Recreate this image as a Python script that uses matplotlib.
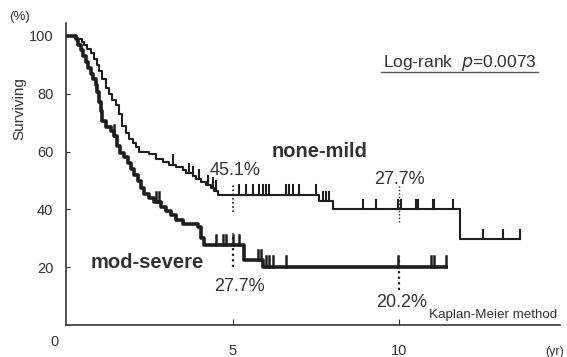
import matplotlib
matplotlib.use("Agg")
import matplotlib.pyplot as plt

plt.rcParams["font.family"] = ["Liberation Sans", "DejaVu Sans"]

# none-mild (upper, thinner curve)
nm_time = [0, 0.3, 0.48, 0.55, 0.65, 0.75, 0.85, 0.93, 1.0, 1.1, 1.2, 1.3, 1.4, 1.5, 1.6, 1.7, 1.8, 1.9, 2.0, 2.1, 2.2,
           2.5, 2.7, 2.9, 3.1, 3.3, 3.5, 3.6, 3.8, 3.9, 4.05, 4.2, 4.35, 4.45, 4.55, 7.6, 8.0, 11.8, 13.6]
nm_surv = [100, 99, 98, 97, 95.5, 94, 92, 90, 88, 85, 82, 80, 78, 76, 73, 69, 66.5, 64.5, 63, 61.5, 60,
           59, 57.5, 56.5, 55.5, 54.5, 53.5, 52.5, 51.5, 50.5, 49.5, 48.5, 47.5, 46.5, 45.1, 42.8, 40.2, 29.8, 29.8]
nm_cens = [3.2, 3.7, 3.8, 4.0, 4.25, 4.4, 4.5, 5.2, 5.4, 5.6, 5.8, 5.9, 6.0, 6.1, 6.6, 6.7, 6.8, 7.0, 7.5, 7.7, 7.8, 7.9,
           8.9, 9.3, 9.95, 10.05, 10.5, 10.55, 11.0, 11.05, 11.6, 12.5, 13.1, 13.6]

# mod-severe (lower, thicker curve)
ms_time = [0, 0.3, 0.36, 0.45, 0.52, 0.6, 0.68, 0.75, 0.82, 0.9, 0.95, 1.0, 1.05, 1.1, 1.2, 1.35, 1.45, 1.55, 1.62,
           1.75, 1.85, 1.95, 2.05, 2.15, 2.25, 2.35, 2.5, 2.65, 2.85, 3.0, 3.15, 3.3, 3.5, 3.95, 4.05, 4.15, 5.35, 5.9, 11.4]
ms_surv = [100, 99, 97, 95, 93, 91, 89, 87, 85, 83, 80.5, 77, 74, 70.5, 68.5, 67, 65.5, 62, 59.5,
           58, 56, 54, 52, 50, 47.5, 45.5, 44, 42.5, 41, 39.5, 38, 36.5, 35, 34, 30, 27.7, 22.5, 20.2, 20.2]
ms_cens = [1.45, 2.7, 2.8, 4.5, 4.7, 4.8, 5.0, 5.2, 5.75, 5.85, 6.0, 6.1, 6.2, 6.6, 9.95, 10.95, 11.05, 11.4]

y_ticks = [20, 40, 60, 80, 100]
x_ticks = [5, 10]


def surv_at(times, survs, t):
    s = survs[0]
    for ti, si in zip(times, survs):
        if ti <= t:
            s = si
    return s


ink = "#1e1e1e"
txt = "#333333"
fig = plt.figure(figsize=(5.67, 3.57), dpi=100)
ax = fig.add_axes([0.116, 0.0896, 0.871, 0.846])
ax.set_xlim(0, 14.8)
ax.set_ylim(0, 104.5)

ax.step(nm_time, nm_surv, where="post", color=ink, lw=1.5)
ax.step(ms_time, ms_surv, where="post", color=ink, lw=2.6)

for t in nm_cens:
    s = surv_at(nm_time, nm_surv, t)
    ax.plot([t, t], [s, s + 3.2], color=ink, lw=1.5)
for t in ms_cens:
    s = surv_at(ms_time, ms_surv, t)
    ax.plot([t, t], [s, s + 3.6], color=ink, lw=1.8)

# dotted reference lines
ax.plot([5, 5], [39, 49], color=ink, lw=1.2, ls=(0, (1, 1.5)))
ax.plot([5, 5], [20, 32], color=ink, lw=1.6, ls=(0, (1, 1.5)))
ax.plot([10, 10], [35.5, 48.5], color=ink, lw=1.0, ls=(0, (1, 1.5)))
ax.plot([10, 10], [12, 24], color=ink, lw=1.6, ls=(0, (1, 1.5)))

for s in ["top", "right"]:
    ax.spines[s].set_visible(False)
for s in ["left", "bottom"]:
    ax.spines[s].set_color("#333333")
    ax.spines[s].set_linewidth(1.2)

ax.set_yticks(y_ticks)
ax.set_yticklabels([str(v) for v in y_ticks])
ax.set_xticks(x_ticks)
ax.set_xticklabels([str(v) for v in x_ticks])
ax.tick_params(axis="y", direction="in", length=3, pad=9, labelsize=10.5, colors=txt)
ax.tick_params(axis="x", direction="in", length=4, pad=14, labelsize=10.5, colors=txt)

fig.text(0.035, 0.697, "Surviving", fontsize=11, color=txt, ha="center", va="center", rotation=90)
fig.text(0.035, 0.952, "(%)", fontsize=9.5, color=txt, ha="center", va="center")
fig.text(0.096, 0.042, "0", fontsize=10.5, color=txt, ha="center", va="center")
fig.text(0.979, 0.014, "(yr)", fontsize=9, color=txt, ha="center", va="center")

ax.text(5.06, 53.6, "45.1%", fontsize=13, color=txt, ha="center", va="center")
ax.text(10.0, 50.3, "27.7%", fontsize=13, color=txt, ha="center", va="center")
ax.text(7.6, 60.0, "none-mild", fontsize=14.5, fontweight="bold", color=txt, ha="center", va="center")
ax.text(2.43, 21.5, "mod-severe", fontsize=14.5, fontweight="bold", color=txt, ha="center", va="center")
ax.text(5.2, 13.3, "27.7%", fontsize=13, color=txt, ha="center", va="center")
ax.text(10.06, 7.8, "20.2%", fontsize=13, color=txt, ha="center", va="center")
ax.text(12.82, 3.3, "Kaplan-Meier method", fontsize=9.6, color=txt, ha="center", va="center")

ax.text(11.8, 90.8, r"Log-rank  $\mathit{p}$=0.0073", fontsize=12.5, color=txt, ha="center", va="center")
ax.plot([9.46, 14.16], [87.6, 87.6], color="#555555", lw=1.0)

fig.savefig("out.png", dpi=100, facecolor="white")
